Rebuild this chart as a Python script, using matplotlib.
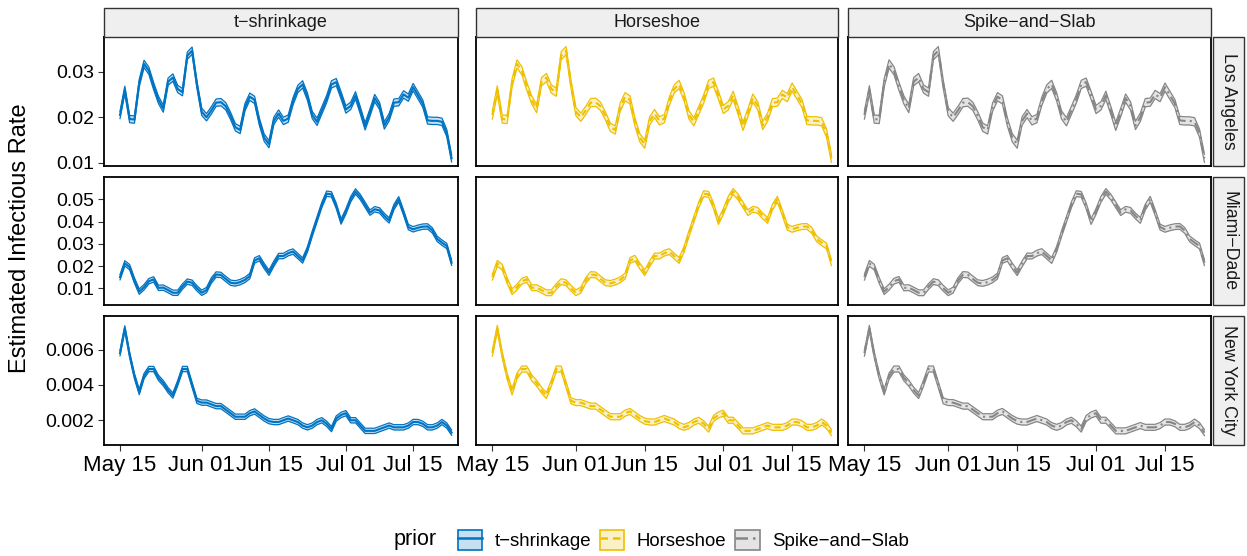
import pandas as pd
import matplotlib
matplotlib.use("Agg")
import matplotlib.pyplot as plt
import matplotlib.dates as mdates
from matplotlib.patches import Patch, Rectangle
from matplotlib.lines import Line2D

plt.rcParams['font.family'] = ['Liberation Sans', 'DejaVu Sans']

# daily posterior mean of the infectious rate, starting May 15
la_mean = [0.0205, 0.0260, 0.0196, 0.0195, 0.0275, 0.0317, 0.0302, 0.0268, 0.0238, 0.0219,
           0.0278, 0.0287, 0.0262, 0.0255, 0.0335, 0.0346, 0.0272, 0.0212, 0.0200, 0.0215,
           0.0232, 0.0233, 0.0224, 0.0203, 0.0178, 0.0172, 0.0222, 0.0245, 0.0238, 0.0190,
           0.0155, 0.0141, 0.0192, 0.0208, 0.0192, 0.0197, 0.0235, 0.0262, 0.0272, 0.0245,
           0.0205, 0.0190, 0.0215, 0.0240, 0.0272, 0.0277, 0.0248, 0.0217, 0.0225, 0.0248,
           0.0215, 0.0180, 0.0210, 0.0242, 0.0225, 0.0182, 0.0200, 0.0232, 0.0233, 0.0250,
           0.0243, 0.0266, 0.0248, 0.0230, 0.0193, 0.0192, 0.0192, 0.0190, 0.0165, 0.0110]
miami_mean = [0.0150, 0.0212, 0.0195, 0.0135, 0.0085, 0.0105, 0.0132, 0.0140, 0.0102, 0.0103,
              0.0092, 0.0080, 0.0080, 0.0108, 0.0130, 0.0125, 0.0100, 0.0080, 0.0092, 0.0135,
              0.0162, 0.0160, 0.0142, 0.0125, 0.0122, 0.0128, 0.0138, 0.0155, 0.0225, 0.0235,
              0.0200, 0.0170, 0.0210, 0.0245, 0.0245, 0.0258, 0.0265, 0.0245, 0.0225, 0.0275,
              0.0345, 0.0410, 0.0475, 0.0525, 0.0522, 0.0470, 0.0400, 0.0445, 0.0500, 0.0535,
              0.0510, 0.0475, 0.0440, 0.0455, 0.0450, 0.0425, 0.0405, 0.0465, 0.0500, 0.0440,
              0.0375, 0.0365, 0.0372, 0.0377, 0.0378, 0.0360, 0.0322, 0.0305, 0.0290, 0.0215]
nyc_mean = [0.0058, 0.0072, 0.0057, 0.0045, 0.0036, 0.0045, 0.0049, 0.0049, 0.0044, 0.0041,
            0.0037, 0.0034, 0.0041, 0.0049, 0.0049, 0.0040, 0.0031, 0.0030, 0.0030, 0.0029,
            0.0028, 0.0028, 0.0026, 0.0024, 0.0022, 0.0022, 0.0022, 0.0024, 0.0025, 0.0023,
            0.0021, 0.00195, 0.0019, 0.0019, 0.0020, 0.0021, 0.0020, 0.0019, 0.0017, 0.0016,
            0.0017, 0.0019, 0.0020, 0.0018, 0.0015, 0.0021, 0.0023, 0.0024, 0.0020, 0.0020,
            0.0017, 0.0014, 0.0014, 0.0014, 0.0015, 0.0016, 0.0017, 0.0016, 0.0016, 0.0016,
            0.0017, 0.0019, 0.0019, 0.0018, 0.0016, 0.0016, 0.0017, 0.0019, 0.0017, 0.0013]

cities = ['Los Angeles', 'Miami\u2212Dade', 'New York City']
city_means = [la_mean, miami_mean, nyc_mean]

priors = ['t\u2212shrinkage', 'Horseshoe', 'Spike\u2212and\u2212Slab']
prior_colors = ['#0073C2', '#EFC000', '#868686']
prior_lines = ['-', (0, (3, 2)), (0, (5, 2, 1, 2))]

# half width of the credible band, per prior (rows) and city (columns)
band_half = [[0.0008, 0.0012, 0.00015],
             [0.0009, 0.0013, 0.00017],
             [0.0009, 0.0013, 0.00017]]

y_ticks = [[0.01, 0.02, 0.03], [0.01, 0.02, 0.03, 0.04, 0.05], [0.002, 0.004, 0.006]]
y_labels = [['0.01', '0.02', '0.03'], ['0.01', '0.02', '0.03', '0.04', '0.05'],
            ['0.002', '0.004', '0.006']]
y_lims = [(0.0093, 0.0376), (0.0025, 0.0600), (0.0006, 0.0079)]

x_tick_dates = ['2020-05-15', '2020-06-01', '2020-06-15', '2020-07-01', '2020-07-15']
dates = pd.date_range('2020-05-15', periods=len(la_mean), freq='D')

W, H = 1247, 556
fig = plt.figure(figsize=(W / 100, H / 100), dpi=100)

col_px = [(104, 458), (476, 838), (848, 1211)]
row_px = [(37, 166), (177, 305), (316, 445)]
x_lo = pd.Timestamp('2020-05-11 16:00')
x_hi = pd.Timestamp('2020-07-24 08:00')

for r, city in enumerate(cities):
    for c, prior in enumerate(priors):
        x0, x1 = col_px[c]
        y0, y1 = row_px[r]
        ax = fig.add_axes([x0 / W, 1 - y1 / H, (x1 - x0) / W, (y1 - y0) / H])
        mean = pd.Series(city_means[r])
        lo = mean - band_half[c][r]
        hi = mean + band_half[c][r]
        col = prior_colors[c]
        ax.fill_between(dates, lo, hi, color=col, alpha=0.22, lw=0)
        ax.plot(dates, lo, color=col, lw=0.9)
        ax.plot(dates, hi, color=col, lw=0.9)
        ax.plot(dates, mean, color=col, lw=1.5, linestyle=prior_lines[c])
        ax.set_xlim(x_lo, x_hi)
        ax.set_ylim(*y_lims[r])
        ax.set_xticks(pd.to_datetime(x_tick_dates))
        ax.xaxis.set_major_formatter(mdates.DateFormatter('%b %d'))
        ax.tick_params(length=4, width=0.8, color='#333333', pad=3)
        ax.tick_params(axis='x', labelsize=16)
        ax.tick_params(axis='y', labelsize=14)
        ax.set_yticks(y_ticks[r])
        if c == 0:
            ax.set_yticklabels(y_labels[r])
        else:
            ax.tick_params(axis='y', length=0, labelleft=False)
        if r < 2:
            ax.tick_params(axis='x', length=0, labelbottom=False)
        for s in ax.spines.values():
            s.set_linewidth(1.3)
            s.set_color('black')

        # strips
        if r == 0:
            fig.patches.append(Rectangle((x0 / W, 1 - y0 / H), (x1 - x0) / W, 29 / H,
                                         transform=fig.transFigure, facecolor='#EFEFEF',
                                         edgecolor='#333333', lw=1.0))
            fig.text((x0 + x1) / 2 / W, 1 - (y0 - 14.5) / H, prior, ha='center',
                     va='center', fontsize=13, color='#1A1A1A')
        if c == 2:
            fig.patches.append(Rectangle((1213 / W, 1 - y1 / H), 31 / W, (y1 - y0) / H,
                                         transform=fig.transFigure, facecolor='#EFEFEF',
                                         edgecolor='#333333', lw=1.0))
            fig.text(1228.5 / W, 1 - (y0 + y1) / 2 / H, city, ha='center', va='center',
                     rotation=-90, fontsize=12.8, color='#1A1A1A')

fig.text(20 / W, 1 - 238 / H, 'Estimated Infectious Rate', rotation=90, ha='center',
         va='center', fontsize=17)

# legend
handles = []
for c in range(3):
    handles.append((Patch(facecolor=prior_colors[c], alpha=0.22, edgecolor='none'),
                    Patch(facecolor='none', edgecolor=prior_colors[c], lw=1.2),
                    Line2D([], [], color=prior_colors[c], lw=1.8, linestyle=prior_lines[c])))
fig.text(437 / W, 1 - 540 / H, 'prior', ha='right', va='center', fontsize=15.5)
fig.legend(handles, priors, loc='center left', bbox_to_anchor=(458 / W, 1 - 540 / H),
           ncol=3, frameon=False, fontsize=13.4, handlelength=1.3, handleheight=1.3,
           handletextpad=0.65, columnspacing=0.5, borderaxespad=0, borderpad=0)

fig.savefig('out.png', dpi=100)
